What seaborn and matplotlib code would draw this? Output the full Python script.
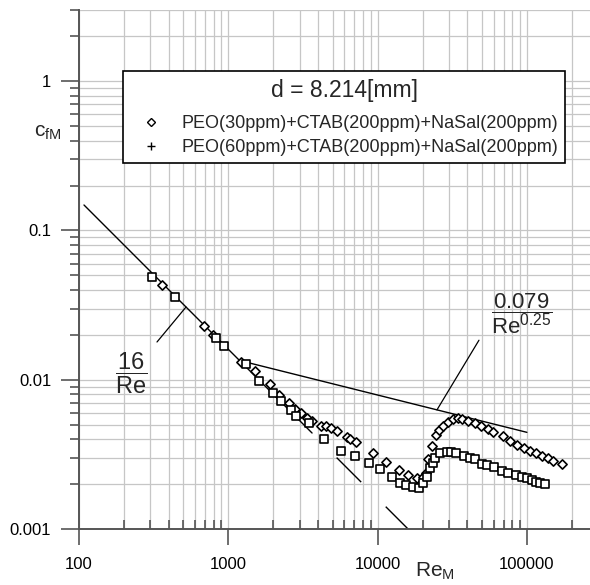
import numpy as np
import pandas as pd
import seaborn as sns
import matplotlib
matplotlib.use('Agg')
import matplotlib.pyplot as plt
from matplotlib.lines import Line2D
from matplotlib.ticker import FuncFormatter, LogLocator, NullFormatter

# --- datos ---
re_peo30 = [358, 691, 794, 1222, 1510, 1902, 2196, 2551, 2815, 3059,
            3350, 3618, 4158, 4533, 4875, 5373, 6266, 6533, 7166, 9273,
            11380, 13980, 16060, 18280, 20050, 21100, 21860, 23040, 24620, 25910,
            27540, 29750, 32140, 34710, 36590, 40500, 44930, 49260, 54620, 59540,
            68850, 77060, 85450, 96070, 104900, 114500, 125700, 137800, 150200, 171100]
cf_peo30 = [0.0428, 0.0229, 0.0198, 0.01305, 0.01147, 0.0093, 0.00796, 0.0070, 0.00637, 0.00595,
            0.00551, 0.00528, 0.00489, 0.00487, 0.00476, 0.00455, 0.00414, 0.0040, 0.00382, 0.00321,
            0.00279, 0.00248, 0.0023, 0.00218, 0.00224, 0.00236, 0.00294, 0.00359, 0.00426, 0.0046,
            0.00491, 0.00522, 0.00545, 0.00551, 0.00545, 0.0053, 0.0051, 0.00489, 0.00469, 0.00448,
            0.00417, 0.00388, 0.00365, 0.00347, 0.00332, 0.00321, 0.00308, 0.00297, 0.00286, 0.00272]

re_peo60 = [307, 440, 827, 936, 1308, 1613, 1983, 2254, 2618, 2841,
            3455, 4375, 5688, 7058, 8800, 10380, 12430, 14130, 15500, 17190,
            18940, 20240, 21330, 22440, 23390, 24240, 26180, 29030, 31010, 33500,
            37900, 41590, 44930, 49800, 54300, 60200, 67800, 75080, 84140, 92300,
            99700, 107700, 115100, 122400, 132200]
cf_peo60 = [0.0489, 0.0359, 0.0189, 0.01687, 0.01272, 0.00979, 0.00818, 0.00722, 0.00626, 0.00571,
            0.0051, 0.00402, 0.00332, 0.00309, 0.00275, 0.00251, 0.00224, 0.00204, 0.00196, 0.00191,
            0.00189, 0.00202, 0.00224, 0.00255, 0.00275, 0.00297, 0.00321, 0.00327, 0.00326, 0.00321,
            0.00308, 0.00298, 0.00294, 0.00272, 0.00268, 0.00261, 0.00244, 0.00238, 0.0023, 0.00224,
            0.00218, 0.00213, 0.00207, 0.00204, 0.0020]

# rangos de Re de las curvas teoricas
re_lam = [108, 3640]          # 16/Re, tramo continuo
re_lam_dash = [3640, 16300]   # 16/Re, tramo discontinuo
re_turb = [1300, 100000]      # 0.079/Re^0.25

legend_title = 'd = 8.214[mm]'
labels = ['PEO(30ppm)+CTAB(200ppm)+NaSal(200ppm)',
          'PEO(60ppm)+CTAB(200ppm)+NaSal(200ppm)']

# --- estilo ---
sns.set_theme(style='white')
plt.rcParams['font.family'] = ['Liberation Sans', 'DejaVu Sans']
plt.rcParams['mathtext.fontset'] = 'custom'
plt.rcParams['mathtext.rm'] = 'Liberation Sans'
plt.rcParams['mathtext.it'] = 'Liberation Sans:italic'
plt.rcParams['mathtext.bf'] = 'Liberation Sans:bold'

W, H = 590, 585
fig = plt.figure(figsize=(W / 100, H / 100), dpi=100)
ax = fig.add_axes([79 / W, 56 / H, 511 / W, 519 / H])
ax.set_xscale('log')
ax.set_yscale('log')

# puntos
sns.scatterplot(x=re_peo30, y=cf_peo30, marker='D', s=22, color='white',
                edgecolor='black', linewidth=1.2, ax=ax, zorder=3)
sns.scatterplot(x=re_peo60, y=cf_peo60, marker='s', s=32, color='white',
                edgecolor='black', linewidth=1.2, ax=ax, zorder=3)

# curvas teoricas
lam = np.array(re_lam, dtype=float)
lam_d = np.array(re_lam_dash, dtype=float)
turb = np.array(re_turb, dtype=float)
sns.lineplot(x=lam, y=16 / lam, color='black', lw=1.0, ax=ax, zorder=2)
sns.lineplot(x=lam_d, y=16 / lam_d, color='black', lw=1.0, ax=ax, zorder=2,
             linestyle=(25, (25, 25)))
sns.lineplot(x=turb, y=0.079 / turb ** 0.25, color='black', lw=1.0, ax=ax, zorder=2)

# etiquetas de las curvas
ax.text(223, 0.0111, r'$\dfrac{16}{\mathrm{Re}}$', fontsize=17, ha='center', va='center')
ax.annotate('', xy=(521, 16 / 521), xytext=(333, 0.0179),
            arrowprops=dict(arrowstyle='-', color='black', lw=0.9, shrinkA=0, shrinkB=0))
ax.text(92700, 0.0277, r'$\dfrac{0.079}{\mathrm{Re}^{0.25}}$', fontsize=16,
        ha='center', va='center')
ax.annotate('', xy=(24990, 0.079 / 24990 ** 0.25), xytext=(47760, 0.0184),
            arrowprops=dict(arrowstyle='-', color='black', lw=0.9, shrinkA=0, shrinkB=0))

# ejes
ax.set_xlim(100, 264700)
ax.set_ylim(0.001, 3)
ax.xaxis.set_major_locator(LogLocator(base=10))
ax.yaxis.set_major_locator(LogLocator(base=10))
ax.xaxis.set_minor_locator(LogLocator(base=10, subs=np.arange(2, 10), numticks=20))
ax.yaxis.set_minor_locator(LogLocator(base=10, subs=np.arange(2, 10), numticks=20))
fmt = FuncFormatter(lambda v, _: f'{v:g}')
ax.xaxis.set_major_formatter(fmt)
ax.yaxis.set_major_formatter(fmt)
ax.xaxis.set_minor_formatter(NullFormatter())
ax.yaxis.set_minor_formatter(NullFormatter())

ax.grid(which='both', color='#c6c6c6', lw=0.9)
ax.set_axisbelow(True)
for s in ['top', 'right']:
    ax.spines[s].set_visible(False)
for s in ['left', 'bottom']:
    ax.spines[s].set_color('#555555')
    ax.spines[s].set_linewidth(1.4)

ax.tick_params(axis='both', which='both', bottom=True, left=True, colors='#555555',
               width=1.2, labelcolor='black', labelsize=12)
ax.tick_params(axis='x', which='major', direction='out', length=11.5, pad=9)
ax.tick_params(axis='x', which='minor', direction='in', length=6.5)
ax.tick_params(axis='y', which='major', direction='out', length=13, pad=7)
ax.tick_params(axis='y', which='minor', direction='out', length=6.5)
ax.set_xlabel('')
ax.set_ylabel('')

fig.text(48 / W, 1 - 132 / H, r'c$_{\mathrm{fM}}$', fontsize=15, ha='center', va='center')
fig.text(435 / W, 1 - 571 / H, r'Re$_{\mathrm{M}}$', fontsize=15, ha='center', va='center')

# leyenda
handles = [Line2D([], [], marker='D', ms=4, mfc='white', mec='black', mew=1.0, ls='none'),
           Line2D([], [], marker='+', ms=6, color='black', mew=1.0, ls='none')]
leg = ax.legend(handles, labels, title=legend_title, loc='upper left',
                bbox_to_anchor=((123 - 79) / 511, (529 - 71) / 519),
                bbox_transform=ax.transAxes, prop={'size': 13}, title_fontsize=16.5,
                frameon=True, fancybox=False, edgecolor='black', framealpha=1,
                borderpad=0.42, handlelength=2.3, handletextpad=0.5,
                labelspacing=0.355, borderaxespad=0)
leg.get_frame().set_linewidth(1.2)
leg.set_zorder(5)
leg._legend_box.sep = 10  # separacion titulo - entradas

fig.savefig('out.png', dpi=100)
